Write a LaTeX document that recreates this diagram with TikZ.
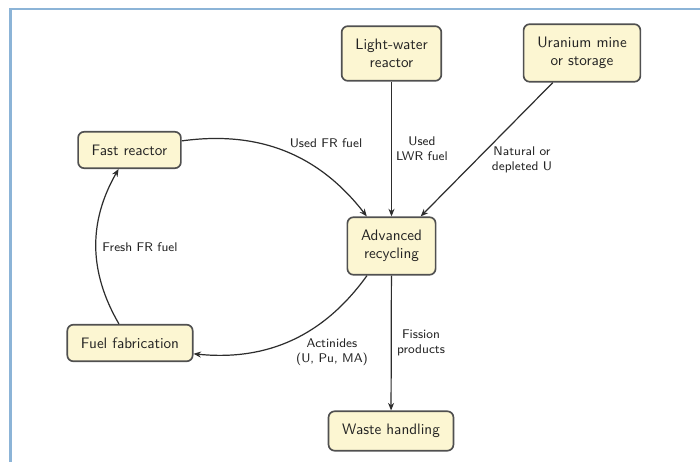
\documentclass[tikz,border=0pt]{standalone}
\usepackage{fontspec}
\usetikzlibrary{arrows.meta}
\definecolor{boxfill}{RGB}{252,246,210}
\definecolor{boxdraw}{RGB}{80,80,80}
\definecolor{linecol}{RGB}{45,45,45}
\definecolor{framecol}{RGB}{140,180,215}
\definecolor{txtcol}{RGB}{35,35,35}
\tikzset{
  stage/.style={draw=boxdraw, fill=boxfill, line width=1.1pt, rounded corners=4pt,
    align=center, inner xsep=9pt, inner ysep=8.5pt, text=txtcol,
    font=\sffamily\fontsize{10}{12}\selectfont},
  lbl/.style={align=center, inner sep=1pt, text=txtcol,
    font=\sffamily\fontsize{8.3}{10}\selectfont},
  flow/.style={draw=linecol, line width=0.8pt, -{Stealth[length=5pt,width=4pt]}}
}
\begin{document}
\begin{tikzpicture}[x=0.66pt, y=-0.66pt]
\useasboundingbox (0,0) rectangle (700,462);
\fill[white] (0,0) rectangle (700,462);
\draw[framecol, line width=1.4pt] (10.5,462) -- (10.5,9) -- (700,9);

\node[stage] (lwr) at (391.5,53.5) {Light-water\\reactor};
\node[stage] (umine) at (582,53) {Uranium mine\\or storage};
\node[stage] (fast) at (129.5,150) {Fast reactor};
\node[stage] (adv) at (391.5,246) {Advanced\\recycling};
\node[stage] (fab) at (130,343) {Fuel fabrication};
\node[stage] (waste) at (391,431) {Waste handling};

\draw[flow] (lwr) -- (adv);
\draw[flow] (umine) -- (adv);
\draw[flow] (fast) to[bend left=30] (adv);
\draw[flow] (fab) to[bend left=30] (fast);
\draw[flow] (adv) to[bend left=30] (fab);
\draw[flow] (adv) -- (waste);

\node[lbl] (lusedfr) at (326,143) {Used FR fuel};
\node[lbl] (lusedlwr) at (422,149) {Used\\LWR fuel};
\node[lbl] (lnat) at (522,160) {Natural or\\depleted U};
\node[lbl] (lfresh) at (140,247) {Fresh FR fuel};
\node[lbl] (lact) at (332,352) {Actinides\\(U, Pu, MA)};
\node[lbl] (lfiss) at (421,343) {Fission\\products};
\end{tikzpicture}
\end{document}
